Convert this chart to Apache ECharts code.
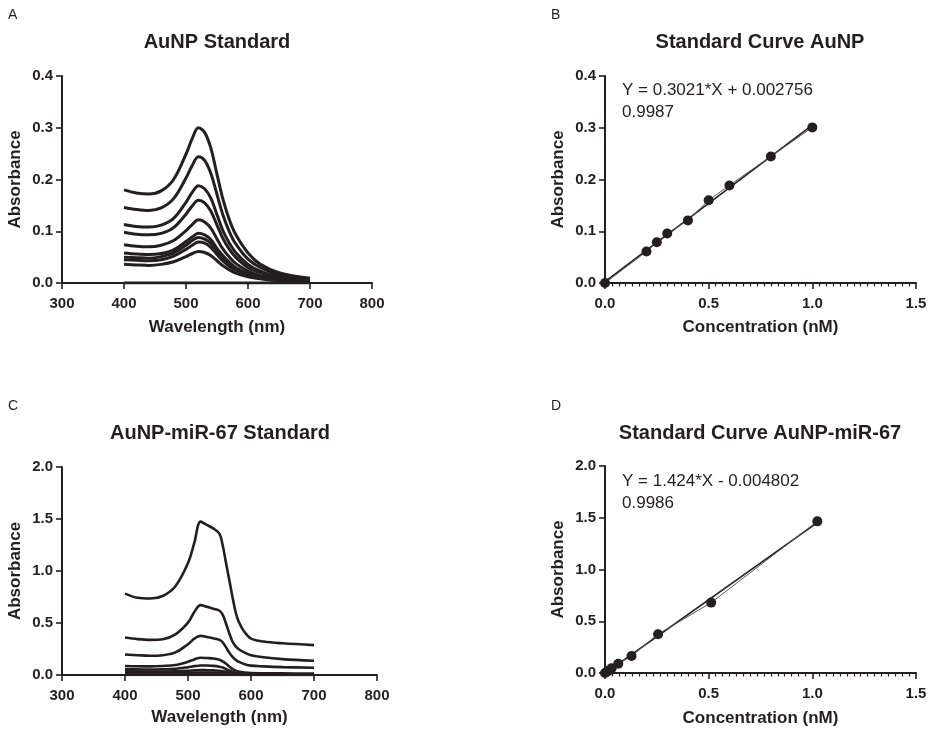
<!DOCTYPE html>
<html>
<head>
<meta charset="utf-8">
<script src="https://cdn.jsdelivr.net/npm/echarts@6/dist/echarts.min.js"></script>
<style>
html,body{margin:0;padding:0;background:#fff;}
#main{width:933px;height:732px;}
</style>
</head>
<body>
<div id="main"></div>
<script>
// ---------- Panel A: AuNP spectra ----------
const wavelengthA = [400,420,440,460,480,500,510,520,530,540,550,560,570,580,600,620,650,700];
const spectraA = [
  [0.180,0.174,0.172,0.178,0.200,0.249,0.279,0.300,0.291,0.261,0.210,0.160,0.122,0.094,0.058,0.036,0.020,0.009],
  [0.146,0.142,0.140,0.145,0.163,0.203,0.227,0.244,0.237,0.212,0.171,0.130,0.099,0.076,0.046,0.030,0.016,0.007],
  [0.113,0.109,0.108,0.112,0.125,0.156,0.175,0.188,0.182,0.164,0.132,0.100,0.077,0.059,0.036,0.023,0.012,0.006],
  [0.098,0.094,0.093,0.096,0.107,0.133,0.149,0.160,0.155,0.139,0.112,0.085,0.065,0.050,0.030,0.020,0.010,0.005],
  [0.074,0.071,0.070,0.073,0.082,0.101,0.113,0.122,0.118,0.106,0.085,0.065,0.050,0.038,0.023,0.014,0.008,0.004],
  [0.058,0.056,0.055,0.057,0.064,0.080,0.089,0.096,0.093,0.084,0.067,0.052,0.040,0.030,0.018,0.012,0.006,0.003],
  [0.050,0.049,0.048,0.051,0.058,0.073,0.082,0.088,0.085,0.077,0.062,0.047,0.036,0.028,0.017,0.011,0.006,0.003],
  [0.045,0.044,0.043,0.045,0.052,0.065,0.073,0.079,0.077,0.069,0.055,0.042,0.032,0.025,0.015,0.010,0.005,0.002],
  [0.036,0.035,0.034,0.036,0.041,0.051,0.057,0.061,0.059,0.053,0.043,0.033,0.025,0.019,0.012,0.008,0.004,0.002],
  [0,0,0,0,0,0,0,0,0,0,0,0,0,0,0,0,0,0]
];

// ---------- Panel B: AuNP standard curve ----------
const concB = [0,0.2,0.25,0.3,0.4,0.5,0.6,0.8,1.0];
const absB  = [0,0.0607,0.0788,0.0956,0.121,0.160,0.1885,0.2446,0.3007];
const fitBx = [0,1.0];
const fitBy = [0.0028,0.3049];
const eqB = ['Y = 0.3021*X + 0.002756','0.9987'];

// ---------- Panel C: AuNP-miR-67 spectra ----------
const wavelengthC = [400,420,440,460,480,500,510,520,530,540,550,555,560,565,570,575,580,590,600,620,650,700];
const spectraC = [
  [0.783,0.742,0.735,0.760,0.853,1.076,1.270,1.475,1.443,1.410,1.357,1.250,1.090,0.930,0.770,0.620,0.520,0.410,0.350,0.322,0.305,0.287],
  [0.360,0.345,0.338,0.344,0.390,0.503,0.605,0.672,0.656,0.637,0.618,0.580,0.500,0.410,0.330,0.280,0.250,0.215,0.190,0.170,0.153,0.137],
  [0.197,0.190,0.185,0.190,0.217,0.296,0.350,0.376,0.366,0.353,0.338,0.315,0.270,0.220,0.180,0.150,0.128,0.104,0.090,0.083,0.076,0.070],
  [0.086,0.084,0.083,0.087,0.096,0.127,0.150,0.166,0.163,0.159,0.146,0.130,0.110,0.085,0.062,0.045,0.034,0.024,0.019,0.017,0.016,0.013],
  [0.055,0.054,0.053,0.055,0.060,0.075,0.085,0.092,0.091,0.088,0.080,0.072,0.058,0.045,0.032,0.022,0.016,0.010,0.008,0.007,0.006,0.005],
  [0.035,0.034,0.033,0.034,0.036,0.041,0.045,0.047,0.046,0.045,0.040,0.036,0.030,0.022,0.016,0.011,0.008,0.006,0.005,0.004,0.004,0.003],
  [0.020,0.019,0.019,0.019,0.020,0.022,0.023,0.024,0.024,0.023,0.020,0.018,0.014,0.010,0.007,0.005,0.004,0.003,0.003,0.002,0.002,0.002],
  [0.010,0.010,0.010,0.010,0.010,0.011,0.012,0.012,0.012,0.011,0.010,0.009,0.007,0.005,0.003,0.002,0.002,0.001,0.001,0.001,0.001,0.001],
  [0,0,0,0,0,0,0,0,0,0,0,0,0,0,0,0,0,0,0,0,0,0]
];

// ---------- Panel D: AuNP-miR-67 standard curve ----------
const concD = [0,0.008,0.016,0.032,0.064,0.128,0.256,0.512,1.024];
const absD  = [0,0.010,0.022,0.047,0.090,0.165,0.375,0.680,1.465];
const fitDx = [0,1.024];
const fitDy = [-0.0048,1.453];
const eqD = ['Y = 1.424*X - 0.004802','0.9986'];

// ---------- Labels ----------
const panelLetters = ['A','B','C','D'];
const panelTitles = ['AuNP Standard','Standard Curve AuNP','AuNP-miR-67 Standard','Standard Curve AuNP-miR-67'];
const xNames = ['Wavelength (nm)','Concentration (nM)','Wavelength (nm)','Concentration (nM)'];
const yName = 'Absorbance';

const INK = '#231f20';
const FONT = '"Liberation Sans", Arial, Helvetica, sans-serif';

const zip = (xs, ys) => xs.map((x, i) => [x, ys[i]]);

const grids = [
  {left: 62, top: 76, width: 310, height: 207},
  {left: 605, top: 76, width: 311, height: 207},
  {left: 62, top: 467, width: 315, height: 208},
  {left: 605, top: 466, width: 311, height: 207}
];

const xRanges = [
  {min: 300, max: 800, interval: 100, dec: 0, minor: false},
  {min: 0, max: 1.5, interval: 0.5, dec: 1, minor: true},
  {min: 300, max: 800, interval: 100, dec: 0, minor: false},
  {min: 0, max: 1.5, interval: 0.5, dec: 1, minor: true}
];
const yRanges = [
  {min: 0, max: 0.4, interval: 0.1},
  {min: 0, max: 0.4, interval: 0.1},
  {min: 0, max: 2.0, interval: 0.5},
  {min: 0, max: 2.0, interval: 0.5}
];
const xNameGaps = [36, 36, 34, 37];

const axisCommon = {
  axisLine: {show: true, onZero: false, lineStyle: {color: INK, width: 2}},
  axisTick: {show: true, inside: false, length: 6, lineStyle: {color: INK, width: 1.6}},
  splitLine: {show: false},
  nameTextStyle: {color: INK, fontFamily: FONT, fontWeight: 'bold', fontSize: 17},
};

const xAxes = xRanges.map((r, i) => Object.assign({}, axisCommon, {
  type: 'value', gridIndex: i, min: r.min, max: r.max, interval: r.interval,
  name: xNames[i], nameLocation: 'middle', nameGap: xNameGaps[i],
  axisLabel: {color: INK, fontFamily: FONT, fontWeight: 'bold', fontSize: 15, margin: 13,
    formatter: v => v.toFixed(r.dec)},
  minorTick: {show: r.minor, splitNumber: 15, length: 3.5, lineStyle: {color: INK, width: 1.2}}
}));

const yAxes = yRanges.map((r, i) => Object.assign({}, axisCommon, {
  type: 'value', gridIndex: i, min: r.min, max: r.max, interval: r.interval,
  name: yName, nameLocation: 'middle', nameRotate: 90, nameGap: 38,
  axisLabel: {color: INK, fontFamily: FONT, fontWeight: 'bold', fontSize: 15, margin: 9,
    formatter: v => v.toFixed(1)}
}));

const series = [];
spectraA.forEach(ys => series.push({
  type: 'line', xAxisIndex: 0, yAxisIndex: 0, data: zip(wavelengthA, ys),
  smooth: 0.35, showSymbol: false, lineStyle: {color: INK, width: 3}, silent: true
}));
spectraC.forEach(ys => series.push({
  type: 'line', xAxisIndex: 2, yAxisIndex: 2, data: zip(wavelengthC, ys),
  smooth: 0.35, showSymbol: false, lineStyle: {color: INK, width: 2.6}, silent: true
}));
[[1, concB, absB, fitBx, fitBy], [3, concD, absD, fitDx, fitDy]].forEach(([gi, cx, cy, fx, fy]) => {
  series.push({
    type: 'line', xAxisIndex: gi, yAxisIndex: gi, data: zip(fx, fy),
    showSymbol: false, lineStyle: {color: INK, width: 1.6}, silent: true, clip: true
  });
  series.push({
    type: 'line', xAxisIndex: gi, yAxisIndex: gi, data: zip(cx, cy),
    symbol: 'circle', symbolSize: 10, showSymbol: true,
    itemStyle: {color: INK}, lineStyle: {color: '#555', width: 1}, silent: true
  });
});

const titles = [];
const letterPos = [[8, 8], [551, 8], [8, 399], [551, 399]];
panelLetters.forEach((t, i) => titles.push({
  text: t, left: letterPos[i][0], top: letterPos[i][1],
  textStyle: {color: INK, fontFamily: FONT, fontWeight: 'normal', fontSize: 14}, padding: 0
}));
const titleCenters = [[217, 32], [760, 32], [220, 423], [760, 423]];
panelTitles.forEach((t, i) => titles.push({
  text: t, left: titleCenters[i][0], top: titleCenters[i][1], textAlign: 'center',
  textStyle: {color: INK, fontFamily: FONT, fontWeight: 'bold', fontSize: 20}, padding: 0
}));
const eqPos = [[622, 79, eqB], [622, 470, eqD]];
eqPos.forEach(([x, y, lines]) => titles.push({
  text: lines.join('\n'), left: x, top: y, padding: 0,
  textStyle: {color: INK, fontFamily: FONT, fontWeight: 'normal', fontSize: 17, lineHeight: 22}
}));

const chart = echarts.init(document.getElementById('main'), null, {renderer: 'canvas'});
chart.setOption({
  backgroundColor: '#fff',
  animation: false,
  title: titles,
  grid: grids.map(g => Object.assign({outerBoundsMode: 'none', containLabel: false}, g)),
  xAxis: xAxes,
  yAxis: yAxes,
  series: series
});
</script>
</body>
</html>
